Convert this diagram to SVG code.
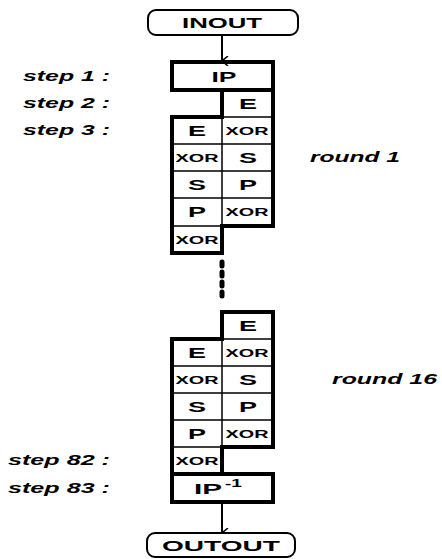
<svg xmlns="http://www.w3.org/2000/svg" width="442" height="559" viewBox="0 0 442 559">
<style>
.thick{fill:none;stroke:#000;stroke-width:4;stroke-linejoin:miter}
.thin{fill:none;stroke:#000;stroke-width:1.5}
.cell{font-family:"Liberation Sans",Arial,sans-serif;font-weight:bold;font-size:14px;text-anchor:middle;fill:#000}
.xor{font-family:"Liberation Sans",Arial,sans-serif;font-weight:bold;font-size:10px;text-anchor:middle;fill:#000}
.lbl{font-family:"Liberation Sans",Arial,sans-serif;font-weight:bold;font-style:italic;font-size:14px;fill:#000}
.term{fill:#fff;stroke:#000;stroke-width:2}
.conn{fill:none;stroke:#000;stroke-width:2}
</style>
<defs>
<marker id="arr" viewBox="0 0 10 10" refX="5" refY="9" markerWidth="10" markerHeight="10" markerUnits="userSpaceOnUse" orient="auto-start-reverse">
<path d="M0,3 L5,9 L10,3" fill="none" stroke="#000" stroke-width="1.5"/>
</marker>
</defs>
<g id="connectors">
<line class="conn" x1="222" y1="35" x2="222" y2="61" marker-end="url(#arr)"/>
<line class="conn" x1="222" y1="502" x2="222" y2="533" marker-end="url(#arr)"/>
<line x1="222" y1="262" x2="222" y2="298" stroke="#000" stroke-width="5" stroke-linecap="round" stroke-dasharray="4 6"/>
</g>
<g id="inout">
<rect class="term" x="148" y="10" width="150" height="25" rx="8"/>
<text class="cell" x="222" y="28" textLength="80" lengthAdjust="spacingAndGlyphs">INOUT</text>
</g>
<g id="round1">
<rect class="thick" x="172" y="62" width="101" height="28"/>
<text class="cell" x="224" y="82" textLength="25" lengthAdjust="spacingAndGlyphs">IP</text>
<path class="thin" d="M222,117 H273 M222,144 H273 M222,171 H273 M222,198 H273 M172,144 H222 M172,171 H222 M172,198 H222 M172,226 H222 M222,117 V226"/>
<path class="thick" d="M222,90 H273 V226 H222 V253 H172 V117 H222 Z"/>
<text class="cell" x="248" y="109" textLength="18" lengthAdjust="spacingAndGlyphs">E</text>
<text class="cell" x="197" y="136" textLength="18" lengthAdjust="spacingAndGlyphs">E</text>
<text class="xor" x="247" y="135" textLength="43" lengthAdjust="spacingAndGlyphs">XOR</text>
<text class="xor" x="197" y="162" textLength="43" lengthAdjust="spacingAndGlyphs">XOR</text>
<text class="cell" x="248" y="163" textLength="18" lengthAdjust="spacingAndGlyphs">S</text>
<text class="cell" x="197" y="190" textLength="18" lengthAdjust="spacingAndGlyphs">S</text>
<text class="cell" x="248" y="190" textLength="18" lengthAdjust="spacingAndGlyphs">P</text>
<text class="cell" x="197" y="217" textLength="18" lengthAdjust="spacingAndGlyphs">P</text>
<text class="xor" x="247" y="216" textLength="43" lengthAdjust="spacingAndGlyphs">XOR</text>
<text class="xor" x="197" y="244" textLength="43" lengthAdjust="spacingAndGlyphs">XOR</text>
</g>
<g id="round16">
<path class="thin" d="M222,339 H273 M222,366 H273 M222,393 H273 M222,420 H273 M172,366 H222 M172,393 H222 M172,420 H222 M172,447 H222 M222,339 V447"/>
<path class="thick" d="M222,312 H273 V447 H222 V474 H172 V339 H222 Z"/>
<text class="cell" x="248" y="331" textLength="18" lengthAdjust="spacingAndGlyphs">E</text>
<text class="cell" x="197" y="358" textLength="18" lengthAdjust="spacingAndGlyphs">E</text>
<text class="xor" x="247" y="357" textLength="43" lengthAdjust="spacingAndGlyphs">XOR</text>
<text class="xor" x="197" y="384" textLength="43" lengthAdjust="spacingAndGlyphs">XOR</text>
<text class="cell" x="248" y="385" textLength="18" lengthAdjust="spacingAndGlyphs">S</text>
<text class="cell" x="197" y="412" textLength="18" lengthAdjust="spacingAndGlyphs">S</text>
<text class="cell" x="248" y="412" textLength="18" lengthAdjust="spacingAndGlyphs">P</text>
<text class="cell" x="197" y="439" textLength="18" lengthAdjust="spacingAndGlyphs">P</text>
<text class="xor" x="247" y="438" textLength="43" lengthAdjust="spacingAndGlyphs">XOR</text>
<text class="xor" x="197" y="465" textLength="43" lengthAdjust="spacingAndGlyphs">XOR</text>
</g>
<g id="ipinv">
<rect class="thick" x="172" y="474" width="101" height="28"/>
<text class="cell" x="194" y="494" textLength="28" lengthAdjust="spacingAndGlyphs" style="text-anchor:start">IP</text>
<text class="xor" x="225" y="487" textLength="17" lengthAdjust="spacingAndGlyphs" style="text-anchor:start">-1</text>
</g>
<g id="outout">
<rect class="term" x="147" y="533" width="148" height="24" rx="8"/>
<text class="cell" x="221" y="551" textLength="118" lengthAdjust="spacingAndGlyphs">OUTOUT</text>
</g>
<g id="labels">
<text class="lbl" x="23" y="81" textLength="87" lengthAdjust="spacingAndGlyphs">step 1 :</text>
<text class="lbl" x="23" y="108" textLength="87" lengthAdjust="spacingAndGlyphs">step 2 :</text>
<text class="lbl" x="23" y="135" textLength="87" lengthAdjust="spacingAndGlyphs">step 3 :</text>
<text class="lbl" x="8" y="465" textLength="102" lengthAdjust="spacingAndGlyphs">step 82 :</text>
<text class="lbl" x="8" y="493" textLength="102" lengthAdjust="spacingAndGlyphs">step 83 :</text>
<text class="lbl" x="310" y="162" textLength="90" lengthAdjust="spacingAndGlyphs">round 1</text>
<text class="lbl" x="332" y="384" textLength="105" lengthAdjust="spacingAndGlyphs">round 16</text>
</g>
</svg>
